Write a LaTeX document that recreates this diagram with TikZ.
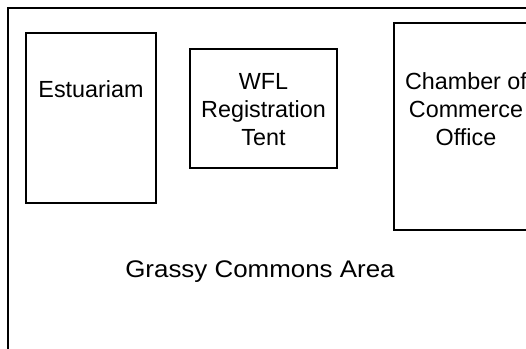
\documentclass[tikz,border=0pt]{standalone}
\usepackage{fontspec}
\usepackage{graphicx}
\setmainfont{Liberation Sans}
\begin{document}
\begin{tikzpicture}[x=0.75pt,y=-0.75pt,
  place/.style={draw=black,line width=1.2pt,inner sep=0pt,outer sep=0pt,rectangle},
  lbl/.style={inner sep=0pt,outer sep=0pt,font=\fontsize{17.5}{21}\selectfont,align=center}]
\useasboundingbox (0,0) rectangle (526,349);
\clip (0,0) rectangle (526,349);
% outer grassy area frame (open at right and bottom, beyond the page)
\coordinate (fbl) at (8,360);
\coordinate (ftl) at (8,8);
\coordinate (ftr) at (540,8);
\draw[line width=1.5pt] (fbl) -- (ftl) -- (ftr);
% buildings
\node[place,minimum width=130*0.75pt,minimum height=170*0.75pt] (est) at (91,118) {};
\node[place,minimum width=147*0.75pt,minimum height=119*0.75pt] (wfl) at (263.5,108.5) {};
\node[place,minimum width=144*0.75pt,minimum height=207*0.75pt] (coc) at (466,126.5) {};
% labels
\node[lbl,anchor=base] (estl) at (91,98) {Estuariam};
\node[lbl,anchor=north] (wfll) at (263.5,73) {WFL\\Registration\\Tent};
\node[lbl,anchor=north] (cocl) at (466,73) {Chamber of\\Commerce\\Office};
\node[lbl,anchor=base,font=\fontsize{18}{21}\selectfont] (grass) at (260,278) {\scalebox{1.08}[1]{Grassy Commons Area}};
\end{tikzpicture}
\end{document}
